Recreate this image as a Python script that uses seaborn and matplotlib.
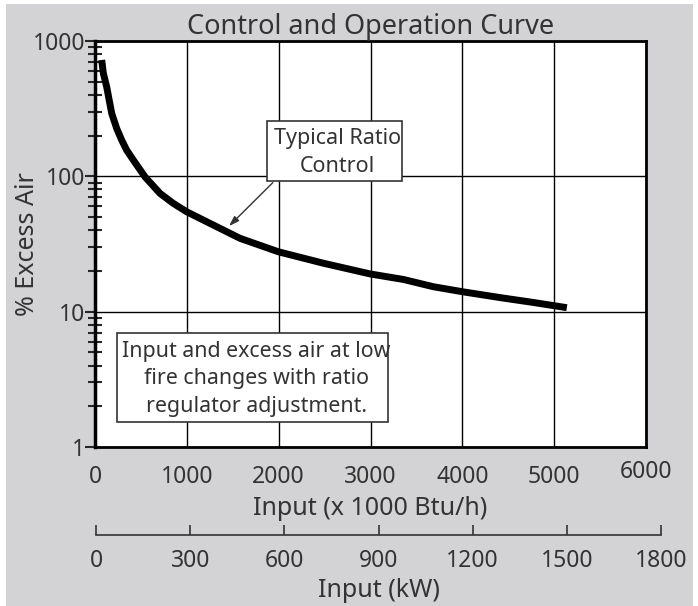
import matplotlib
matplotlib.use("Agg")
import matplotlib.pyplot as plt
import matplotlib.transforms as mtrans
from matplotlib.patches import Rectangle
import numpy as np
import pandas as pd
import seaborn as sns

# ---- data ----
input_kbtu = [73, 91, 127, 182, 236, 291, 345, 417, 545, 708, 853, 999, 1326,
              1580, 1997, 2487, 2996, 3358, 3682, 4012, 4412, 4771, 5138]
excess_air = [724, 577, 459, 292, 226, 185, 156, 132, 99, 74.8, 63.1, 54.7,
              42.4, 34.8, 27.7, 22.8, 19.0, 17.3, 15.3, 14.0, 12.7, 11.7, 10.7]
x_ticks = [0, 1000, 2000, 3000, 4000, 5000, 6000]
y_ticks = [1, 10, 100, 1000]
kw_ticks = [0, 300, 600, 900, 1200, 1500, 1800]
title = "Control and Operation Curve"
xlabel = "Input (x 1000 Btu/h)"
xlabel_kw = "Input (kW)"
ylabel = "% Excess Air"
note_ratio = "Typical Ratio\nControl"
note_low = "Input and excess air at low\nfire changes with ratio\nregulator adjustment."

df = pd.DataFrame({"input": input_kbtu, "air": excess_air})

sns.set_style("white")
plt.rcParams["font.family"] = ["Noto Sans", "DejaVu Sans"]
TXT = "#333333"

W, H = 698, 606
fig = plt.figure(figsize=(W / 100, H / 100), dpi=100, facecolor="white")
# grey panel behind the chart
fig.patches.append(Rectangle((6 / W, 0), (693 - 6) / W, (602) / H,
                             transform=fig.transFigure, facecolor="#d3d3d5",
                             edgecolor="none", zorder=-10))

ax = fig.add_axes([95 / W, 1 - 447 / H, (646 - 95) / W, (447 - 41) / H])
ax.set_facecolor("white")
sns.lineplot(data=df, x="input", y="air", ax=ax, color="black", linewidth=5,
             solid_capstyle="butt", solid_joinstyle="round", zorder=5)
ax.set_yscale("log")
ax.set_xlim(0, 6000)
ax.set_ylim(1, 1000)
ax.set_xticks(x_ticks)
ax.set_xticklabels([str(v) for v in x_ticks])
ax.set_yticks(y_ticks)
ax.set_yticklabels([str(v) for v in y_ticks])
ax.yaxis.set_minor_locator(matplotlib.ticker.LogLocator(base=10, subs=np.arange(2, 10)))
ax.yaxis.set_minor_formatter(matplotlib.ticker.NullFormatter())
ax.grid(True, which="major", color="black", linewidth=1.0)
ax.tick_params(axis="x", which="both", length=0, pad=13, labelsize=16.5, labelcolor=TXT)
ax.tick_params(axis="y", which="major", direction="out", length=7, width=1.5,
               pad=0, labelsize=16.5, labelcolor=TXT, left=True)
ax.tick_params(axis="y", which="minor", direction="inout", length=10, width=1.5, left=True)
for s in ["top", "right", "bottom"]:
    ax.spines[s].set_visible(True)
    ax.spines[s].set_color("black")
    ax.spines[s].set_linewidth(2)
ax.spines["left"].set_color("black")
ax.spines["left"].set_linewidth(2.5)
ax.set_xlabel(xlabel, fontsize=18, color=TXT, labelpad=5)
ax.set_ylabel(ylabel, fontsize=18, color=TXT)
ax.yaxis.set_label_coords(-0.100, 0.5)
ax.set_title(title, fontsize=19.5, color=TXT, pad=5)

# raise the last x tick label slightly as in the reference
lbls = ax.get_xticklabels()
lbls[-1].set_transform(lbls[-1].get_transform() +
                       mtrans.ScaledTranslation(0, 0.05, fig.dpi_scale_trans))

# annotation boxes
ax.add_patch(Rectangle((1874, 92.2), 3344 - 1874, 256 - 92.2, facecolor="white",
                       edgecolor="#333333", linewidth=1.2, zorder=6))
ax.text(2636, 150, note_ratio, ha="center", va="center", multialignment="center",
        fontsize=15.5, color=TXT, zorder=7, linespacing=1.4)
ax.annotate("", xy=(1460, 42.9), xytext=(1936, 89.8),
            arrowprops=dict(arrowstyle="-|>,head_length=0.6,head_width=0.2",
                            color="#333333", lw=1.0, shrinkA=0, shrinkB=0),
            zorder=7)
ax.add_patch(Rectangle((240, 1.53), 3192 - 240, 6.95 - 1.53, facecolor="white",
                       edgecolor="#333333", linewidth=1.2, zorder=6))
ax.text(1754, 3.2, note_low, ha="center", va="center", multialignment="center",
        fontsize=15.4, color=TXT, zorder=7, linespacing=1.4)

# secondary kW scale
ax2 = fig.add_axes([96 / W, 1 - 535 / H, (661 - 96) / W, 0.02])
ax2.set_facecolor("none")
ax2.set_xlim(0, 1800)
ax2.set_ylim(0, 1)
ax2.set_yticks([])
ax2.set_xticks(kw_ticks)
ax2.set_xticklabels([str(v) for v in kw_ticks])
for s in ["top", "right", "left"]:
    ax2.spines[s].set_visible(False)
ax2.spines["bottom"].set_color("#333333")
ax2.spines["bottom"].set_linewidth(1.2)
ax2.tick_params(axis="x", direction="in", length=7, width=1.2, color="#333333",
                pad=10, labelsize=16.5, labelcolor=TXT, bottom=True)
ax2.set_xlabel(xlabel_kw, fontsize=18, color=TXT, labelpad=4)

fig.savefig("out.png", dpi=100, facecolor=fig.get_facecolor())
